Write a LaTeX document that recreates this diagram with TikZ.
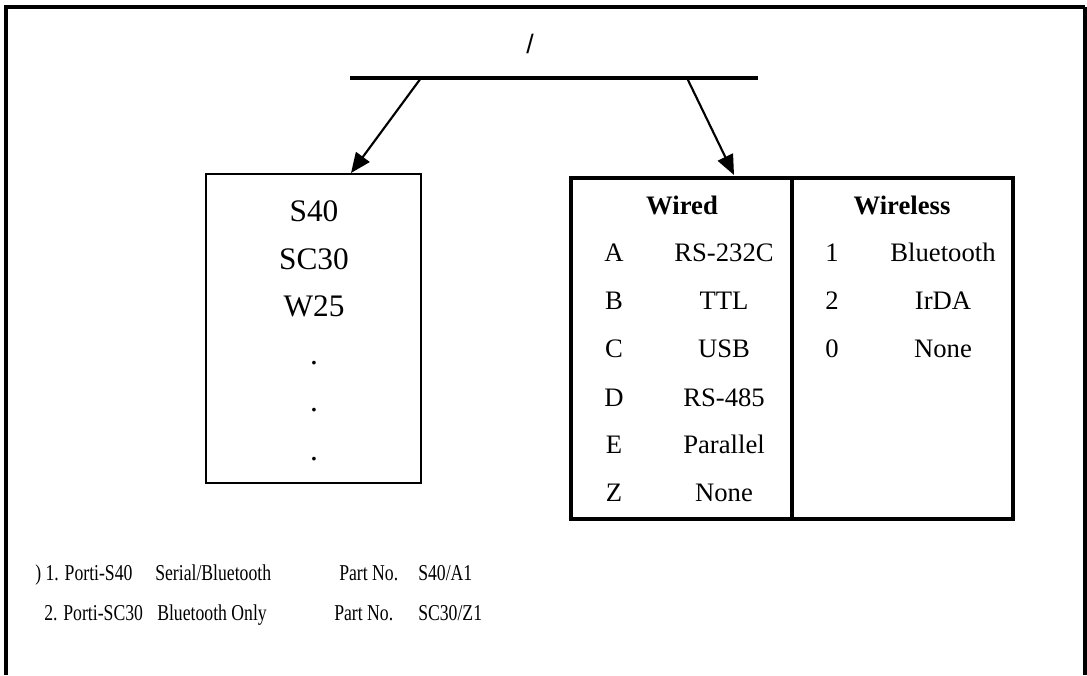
\documentclass[tikz,border=0pt]{standalone}
\usepackage{fontspec}
\setmainfont{Liberation Serif}
\newfontfamily\arialf{Liberation Sans}
\usetikzlibrary{arrows.meta,fit}
\begin{document}
\begin{tikzpicture}[x=0.75pt,y=-0.75pt,
  thickline/.style={line width=3pt},
  arr/.style={line width=1.6pt,-{Triangle[length=15pt,width=12.5pt]}},
  tab/.style={font=\fontsize{20}{23}\selectfont, anchor=base, inner sep=0},
  tabh/.style={font=\fontsize{20}{23}\selectfont\bfseries, anchor=base, inner sep=0},
  big/.style={font=\fontsize{23.5}{28}\selectfont, anchor=base, inner sep=0},
  note/.style={font=\fontsize{17}{20}\selectfont, anchor=base west, inner sep=0}]
\useasboundingbox (0,0) rectangle (1087,675);
% outer frame (open at the bottom)
\draw[line width=3pt] (6,675) -- (6,7) -- (1085,7);
\draw[line width=2.5pt] (1085,7) -- (1085,675);
% title
\node[font=\arialf\fontsize{20}{24}\selectfont, anchor=base, inner sep=0] (title) at (530,53) {/};
% bar
\coordinate (barL) at (350,78);
\coordinate (barR) at (758,78);
\draw[thickline] (barL) -- (barR);
\coordinate (s1) at (421,78);
\coordinate (s2) at (687,78);
% left box
\coordinate (lb1) at (206,174);
\coordinate (lb2) at (421,483);
\node[draw, line width=1.1pt, fit={(lb1)(lb2)}, inner sep=0] (lbox) {};
\coordinate (t1) at (351,173);
\node[big] (m1) at (314,221.5) {S40};
\node[big] (m2) at (314,269) {SC30};
\node[big] (m3) at (314,316.5) {W25};
\node[big] (d1) at (314,364) {.};
\node[big] (d2) at (314,411.5) {.};
\node[big] (d3) at (314,460.5) {.};
% table
\coordinate (tb1) at (571,178);
\coordinate (tb2) at (1013,519);
\node[draw, line width=3pt, fit={(tb1)(tb2)}, inner sep=0] (tbl) {};
\coordinate (divT) at (791.5,178);
\coordinate (divB) at (791.5,519);
\draw[thickline] (divT) -- (divB);
\coordinate (t2) at (734,175);
% arrows
\draw[arr] (s1) -- (t1);
\draw[arr] (s2) -- (t2);
% table headers
\node[tabh] (hw) at (682,214) {Wired};
\node[tabh] (hwl) at (902,214) {Wireless};
% wired rows
\node[tab] (wa) at (614,261.5) {A};
\node[tab] (wav) at (724,261.5) {RS-232C};
\node[tab] (wb) at (614,309.5) {B};
\node[tab] (wbv) at (724,309.5) {TTL};
\node[tab] (wc) at (614,357.5) {C};
\node[tab] (wcv) at (724,357.5) {USB};
\node[tab] (wd) at (614,406) {D};
\node[tab] (wdv) at (724,406) {RS-485};
\node[tab] (we) at (614,453.5) {E};
\node[tab] (wev) at (724,453.5) {Parallel};
\node[tab] (wz) at (614,501.5) {Z};
\node[tab] (wzv) at (724,501.5) {None};
% wireless rows
\node[tab] (r1) at (832,261.5) {1};
\node[tab] (r1v) at (943,261.5) {Bluetooth};
\node[tab] (r2) at (832,309.5) {2};
\node[tab] (r2v) at (943,309.5) {IrDA};
\node[tab] (r0) at (832,357.5) {0};
\node[tab] (r0v) at (943,357.5) {None};
% notes
\node[note] (n1a) at (35,580) {\scalebox{0.78}[1]{) 1. Porti-S40}};
\node[note] (n1b) at (155,580) {\scalebox{0.78}[1]{Serial/Bluetooth}};
\node[note] (n1c) at (339,580) {\scalebox{0.78}[1]{Part No.}};
\node[note] (n1d) at (418,580) {\scalebox{0.78}[1]{S40/A1}};
\node[note] (n2a) at (44,620) {\scalebox{0.78}[1]{2. Porti-SC30}};
\node[note] (n2b) at (157,620) {\scalebox{0.78}[1]{Bluetooth Only}};
\node[note] (n2c) at (334,620) {\scalebox{0.78}[1]{Part No.}};
\node[note] (n2d) at (418,620) {\scalebox{0.78}[1]{SC30/Z1}};
\end{tikzpicture}
\end{document}
